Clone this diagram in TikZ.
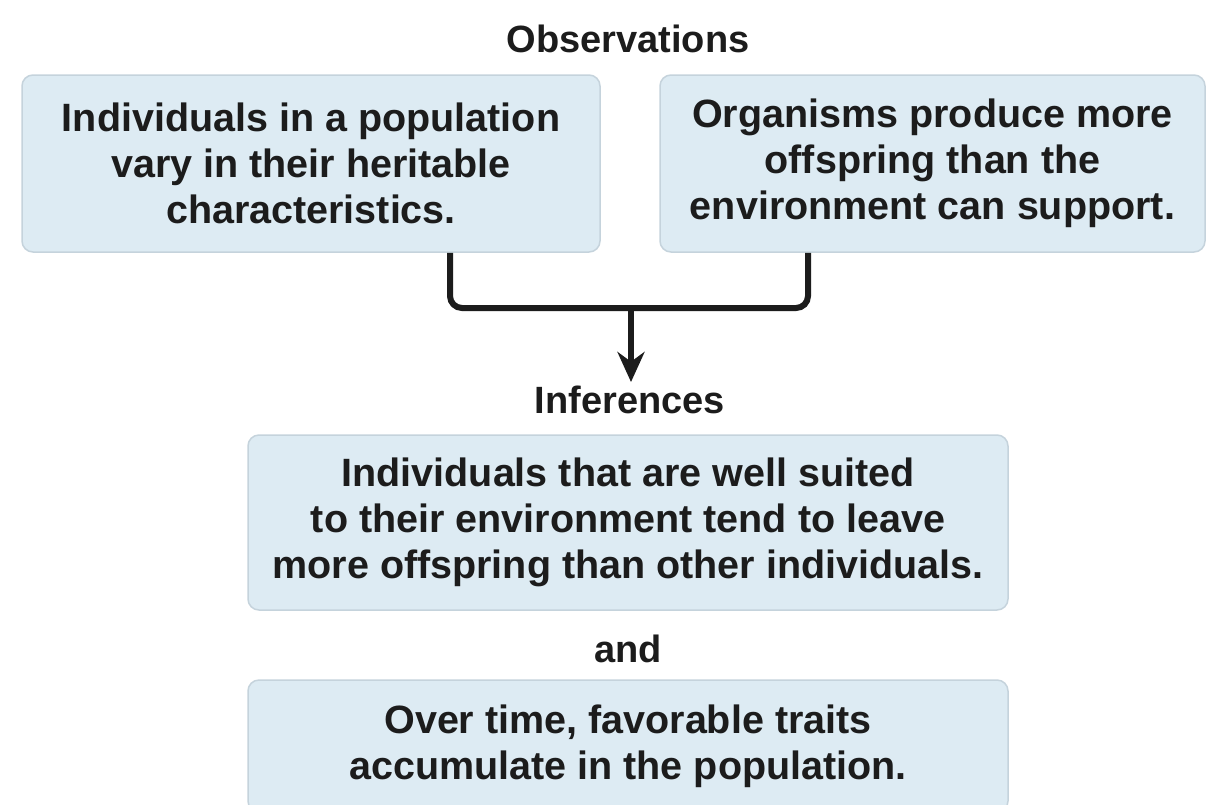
\documentclass[tikz,border=0pt]{standalone}
\usepackage{fontspec}
\setmainfont{Liberation Sans}
\usetikzlibrary{calc,arrows.meta}
\definecolor{boxfill}{HTML}{DDEBF3}
\definecolor{boxline}{HTML}{C5D3DC}
\definecolor{ink}{HTML}{1C1C1C}
\tikzset{
  title/.style={font=\fontsize{38}{44}\selectfont\bfseries, text=ink, align=center, inner sep=0pt},
  bluebox/.style={font=\fontsize{39.5}{46}\selectfont\bfseries, text=ink, align=center, inner sep=0pt,
    draw=boxline, line width=1.5pt, fill=boxfill, rounded corners=11pt},
  conn/.style={line width=6pt, ink, rounded corners=12pt},
}
\begin{document}
\begin{tikzpicture}[x=1pt,y=-1pt]
\useasboundingbox (0,0) rectangle (1215,804);
\fill[white] (0,0) rectangle (1215,804);
\node[title] (obs) at (628,39) {Observations};
\node[bluebox, minimum width=578pt, minimum height=177pt] (b1) at (311,163.5) {Individuals in a population\\vary in their heritable\\characteristics.};
\node[bluebox, minimum width=545pt, minimum height=177pt] (b2) at (932.5,163.5) {Organisms produce more\\offspring than the\\environment can support.};
\coordinate (j) at (631,308);
\coordinate (tip) at (631,382);
\draw[conn] ($(b1.south)+(139,0)$) |- (j) -| ($(b2.south)+(-124.5,0)$);
\draw[line width=6pt, ink, -{Stealth[length=30pt,width=27pt]}] (j) -- (tip);
\node[title] (inf) at (630,400) {Inferences};
\node[bluebox, minimum width=760pt, minimum height=175pt] (b3) at (628,522.5) {Individuals that are well suited\\to their environment tend to leave\\more offspring than other individuals.};
\node[title] (and) at (628,649) {and};
\node[bluebox, minimum width=760pt, minimum height=132pt] (b4) at (628,746) {Over time, favorable traits\\accumulate in the population.};
\end{tikzpicture}
\end{document}
